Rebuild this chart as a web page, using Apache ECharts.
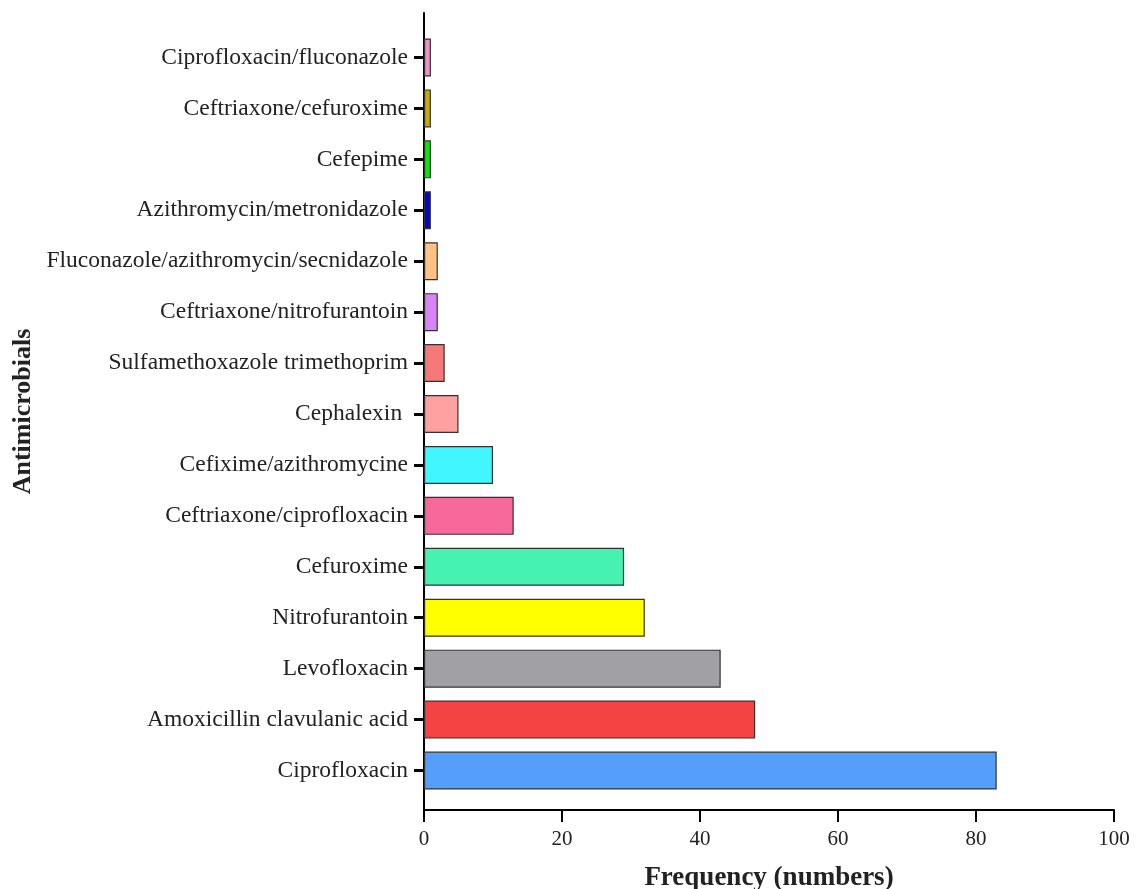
<!DOCTYPE html>
<html>
<head>
<meta charset="utf-8">
<script src="https://cdn.jsdelivr.net/npm/echarts@6/dist/echarts.min.js"></script>
<style>html,body{margin:0;padding:0;background:#fff;}#chart{width:1136px;height:889px;}</style>
</head>
<body>
<div id="chart"></div>
<script>
const categories = [
  "Ciprofloxacin",
  "Amoxicillin clavulanic acid",
  "Levofloxacin",
  "Nitrofurantoin",
  "Cefuroxime",
  "Ceftriaxone/ciprofloxacin",
  "Cefixime/azithromycine",
  "Cephalexin ",
  "Sulfamethoxazole trimethoprim",
  "Ceftriaxone/nitrofurantoin",
  "Fluconazole/azithromycin/secnidazole",
  "Azithromycin/metronidazole",
  "Cefepime",
  "Ceftriaxone/cefuroxime",
  "Ciprofloxacin/fluconazole"
];
const frequency = [83, 48, 43, 32, 29, 13, 10, 5, 3, 2, 2, 1, 1, 1, 1];
const barColors = [
  "#559EFA", "#F54343", "#A1A0A5", "#FFFF00", "#45F2B1",
  "#F7699A", "#42F6FF", "#FFA1A1", "#F57979", "#D884F4",
  "#FFC184", "#0505D0", "#06EA06", "#C8A906", "#F291C6"
];
const xTicks = { min: 0, max: 100, interval: 20 };

const chart = echarts.init(document.getElementById('chart'));
const font = "'Liberation Serif', 'DejaVu Serif', serif";
chart.setOption({
  backgroundColor: '#ffffff',
  animation: false,
  grid: [
    { left: 424, right: 22, top: 13, bottom: 79, containLabel: false, outerBoundsMode: 'none' },
    { left: 424, right: 22, top: 32, bottom: 93, containLabel: false, outerBoundsMode: 'none' }
  ],
  xAxis: [
    {
      gridIndex: 0, type: 'value', min: xTicks.min, max: xTicks.max, interval: xTicks.interval,
      axisLine: { show: true, lineStyle: { color: '#000', width: 2 } },
      axisTick: { show: true, length: 12, lineStyle: { color: '#000', width: 2 } },
      axisLabel: { color: '#222', fontFamily: font, fontSize: 21, margin: 19 },
      splitLine: { show: false },
      name: 'Frequency (numbers)', nameLocation: 'middle', nameGap: 55,
      nameTextStyle: { color: '#222', fontFamily: font, fontSize: 27, fontWeight: 'bold' }
    },
    {
      gridIndex: 1, type: 'value', min: xTicks.min, max: xTicks.max, show: false
    }
  ],
  yAxis: [
    {
      gridIndex: 0, type: 'value', min: 0, max: 1,
      axisLine: { show: true, lineStyle: { color: '#000', width: 2 } },
      axisTick: { show: false }, axisLabel: { show: false }, splitLine: { show: false },
      name: 'Antimicrobials', nameLocation: 'middle', nameGap: 388,
      nameTextStyle: { color: '#222', fontFamily: font, fontSize: 26, fontWeight: 'bold' }
    },
    {
      gridIndex: 1, type: 'category', data: categories,
      axisLine: { show: false },
      axisTick: { show: true, alignWithLabel: true, length: 10, lineStyle: { color: '#000', width: 3 } },
      axisLabel: { color: '#222', fontFamily: font, fontSize: 23.5, margin: 16 },
      splitLine: { show: false }
    }
  ],
  series: [{
    type: 'bar', xAxisIndex: 1, yAxisIndex: 1,
    data: frequency.map((v, i) => ({ value: v, itemStyle: { color: barColors[i] } })),
    barWidth: 38,
    itemStyle: { borderColor: '#333', borderWidth: 1.2 }
  }]
});
</script>
</body>
</html>
